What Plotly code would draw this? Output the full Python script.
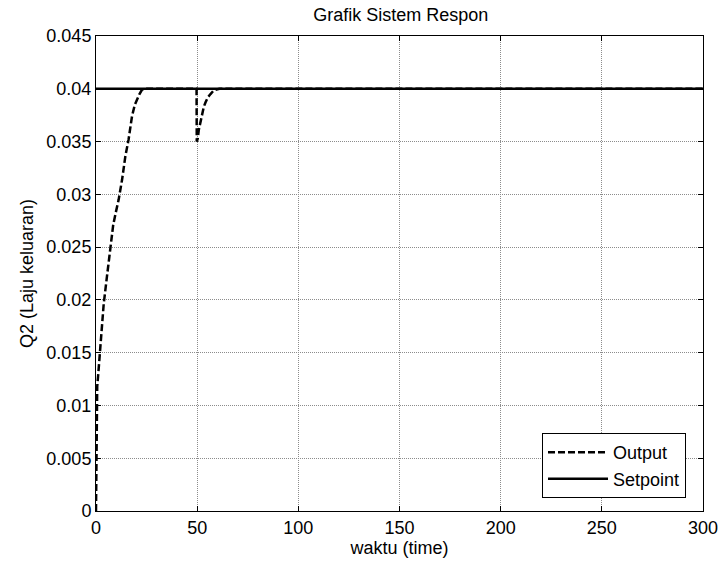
import plotly.graph_objects as go

# Simulated level-controller response: outflow Q2 versus time
time_out = [0, 0.3, 0.6, 1.0, 1.5, 2.1, 3.0, 3.8, 5.4, 7.1, 8.5, 9.8, 11.2, 12.9,
            14.5, 16.1, 17.8, 19.2, 20.3, 21.5, 22.7, 24.0, 26.0, 49.7, 49.8,
            50.3, 50.8, 51.6, 52.5, 53.3, 54.1, 55.3, 56.6, 58.0, 59.0, 61.0, 300]
q_out = [0, 0.0105, 0.0118, 0.0127, 0.0140, 0.0151, 0.0174, 0.0196, 0.0222, 0.0251,
         0.0271, 0.0283, 0.0295, 0.0314, 0.0336, 0.0352, 0.0374, 0.0385, 0.0390,
         0.0395, 0.0399, 0.0400, 0.0400, 0.0400, 0.0350, 0.0353, 0.0361, 0.0369,
         0.0377, 0.0383, 0.0387, 0.0392, 0.0395, 0.0398, 0.0399, 0.0400, 0.0400]

time_sp = [0, 300]
q_sp = [0.04, 0.04]

x_ticks = [0, 50, 100, 150, 200, 250, 300]
y_ticks = [0, 0.005, 0.01, 0.015, 0.02, 0.025, 0.03, 0.035, 0.04, 0.045]
y_labels = ["0", "0.005", "0.01", "0.015", "0.02", "0.025", "0.03", "0.035", "0.04", "0.045"]

FONT = "Liberation Sans, Arial, sans-serif"

fig = go.Figure()
fig.add_trace(go.Scatter(
    x=time_out, y=q_out, mode="lines", name="Output",
    line=dict(color="black", width=2.5, dash="7px,3px"),
))
fig.add_trace(go.Scatter(
    x=time_sp, y=q_sp, mode="lines", name="Setpoint",
    line=dict(color="black", width=2.5),
))

axis_common = dict(
    showline=True, linecolor="black", linewidth=1, mirror="ticks",
    ticks="inside", ticklen=5, tickcolor="black", tickwidth=1,
    showgrid=True, gridcolor="#8c8c8c", gridwidth=1, griddash="1px,1px",
    zeroline=False, automargin=False,
    tickfont=dict(size=18, color="black", family=FONT),
)

fig.update_xaxes(
    range=[0, 300], tickvals=x_ticks,
    title=dict(text="waktu (time)", font=dict(size=18, color="black", family=FONT), standoff=4),
    **axis_common,
)
fig.update_yaxes(
    range=[0, 0.045], tickvals=y_ticks, ticktext=y_labels,
    title=dict(text="Q2 (Laju keluaran)", font=dict(size=18, color="black", family=FONT), standoff=8),
    **axis_common,
)

fig.update_layout(
    width=722, height=564,
    margin=dict(l=96, r=19, t=36, b=53),
    paper_bgcolor="white", plot_bgcolor="white",
    font=dict(family=FONT, size=18, color="black"),
    title=dict(text="Grafik Sistem Respon", x=0.555, xanchor="center",
               y=0.985, yanchor="top", font=dict(size=18, color="black", family=FONT)),
    legend=dict(
        x=0.972, y=0.027, xanchor="right", yanchor="bottom",
        bgcolor="white", bordercolor="black", borderwidth=1,
        font=dict(size=18, color="black", family=FONT),
        itemwidth=60, tracegroupgap=0,
    ),
    showlegend=True,
)

fig.write_html("out.html")
